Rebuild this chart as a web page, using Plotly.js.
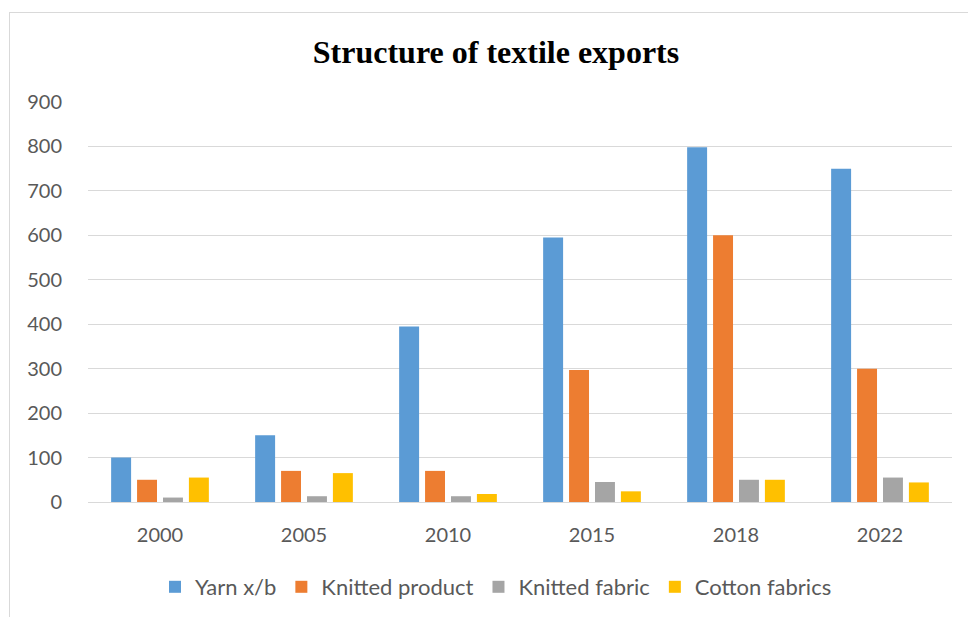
<!DOCTYPE html>
<html>
<head>
<meta charset="utf-8">
<script src="https://cdn.plot.ly/plotly-3.0.1.min.js"></script>
<style>
html,body{margin:0;padding:0;background:#fff;}
#wrap{position:relative;width:968px;height:617px;overflow:hidden;}
#chart{position:absolute;left:0;top:0;width:968px;height:617px;}
#frame{position:absolute;left:9px;top:12px;width:1000px;height:700px;border-left:1px solid #D9D9D9;border-top:1px solid #D9D9D9;pointer-events:none;}
</style>
</head>
<body>
<div id="wrap"><div id="chart"></div><div id="frame"></div></div>
<script>
const years = ["2000", "2005", "2010", "2015", "2018", "2022"];
const yarn = [100, 150, 395, 595, 798, 750];
const knittedProduct = [50, 70, 70, 297, 600, 300];
const knittedFabric = [10, 13, 13, 45, 50, 55];
const cottonFabrics = [55, 65, 18, 24, 50, 44];
const seriesNames = ["Yarn x/b", "Knitted product", "Knitted fabric", "Cotton fabrics"];
const colors = ["#5B9BD5", "#ED7D31", "#A5A5A5", "#FFC000"];
const yTicks = [0, 100, 200, 300, 400, 500, 600, 700, 800, 900];

const values = [yarn, knittedProduct, knittedFabric, cottonFabrics];
const data = values.map((v, i) => ({
  type: "bar",
  x: years,
  y: v,
  name: seriesNames[i],
  marker: {color: colors[i], line: {width: 0}},
  hoverinfo: "x+y+name"
}));

const layout = {
  width: 968, height: 617,
  paper_bgcolor: "rgba(0,0,0,0)",
  plot_bgcolor: "#fff",
  margin: {l: 88, r: 16, t: 102, b: 115},
  barmode: "group",
  bargap: 0.28,
  bargroupgap: 0.23,
  title: {
    text: "<b>Structure of textile exports</b>",
    font: {family: "Liberation Serif, Times New Roman, serif", size: 32, color: "#000"},
    xref: "container", x: 0.5124, xanchor: "center",
    yref: "container", y: 1 - 52/617, yanchor: "middle"
  },
  font: {family: "Lato, sans-serif", size: 20, color: "#595959"},
  xaxis: {
    type: "category",
    showgrid: false, zeroline: false, showline: true, linecolor: "#D9D9D9", linewidth: 1,
    ticks: "", ticklabelstandoff: 15,
    tickfont: {family: "Lato, sans-serif", size: 20, color: "#595959"}
  },
  yaxis: {
    range: [0, 900],
    tickvals: yTicks,
    ticktext: yTicks.map(String),
    showgrid: true, gridcolor: "#D9D9D9", gridwidth: 1,
    zeroline: true, zerolinecolor: "#D9D9D9", zerolinewidth: 1,
    showline: false, ticks: "", ticklabelstandoff: 25,
    tickfont: {family: "Lato, sans-serif", size: 20, color: "#595959"}
  },
  legend: {
    orientation: "h",
    xref: "container", x: 496 / 968, xanchor: "center",
    yref: "container", y: 1 - 587 / 617, yanchor: "middle",
    font: {family: "Lato, sans-serif", size: 22, color: "#595959"},
    itemwidth: 30,
    bgcolor: "rgba(0,0,0,0)"
  },
  showlegend: true
};

Plotly.newPlot("chart", data, layout, {displayModeBar: false, staticPlot: true});
</script>
</body>
</html>
